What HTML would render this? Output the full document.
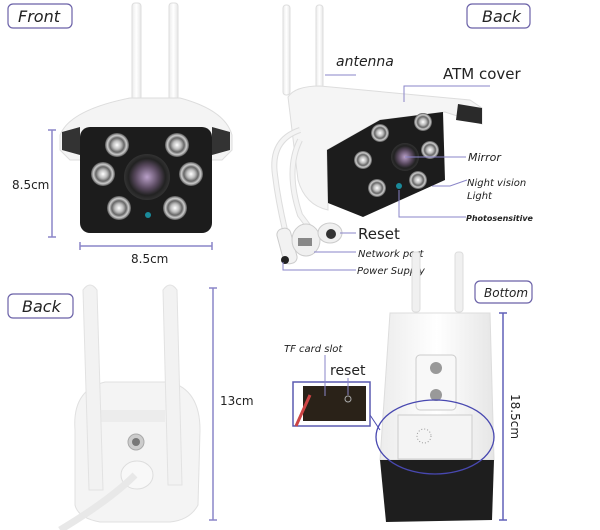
<!DOCTYPE html>
<html><head><meta charset="utf-8"><style>
html,body{margin:0;padding:0;background:#fff;}
svg{display:block;}
text{font-family:"DejaVu Sans","Liberation Sans",sans-serif;fill:#222;}
</style></head><body>
<svg width="600" height="530" viewBox="0 0 600 530" xmlns="http://www.w3.org/2000/svg">
<defs>
<radialGradient id="led" cx="50%" cy="50%" r="50%"><stop offset="0" stop-color="#fff"/><stop offset="0.35" stop-color="#bbb"/><stop offset="0.6" stop-color="#666"/><stop offset="0.8" stop-color="#ccc"/><stop offset="1" stop-color="#555"/></radialGradient>
<radialGradient id="lens" cx="50%" cy="50%" r="50%"><stop offset="0" stop-color="#b9a0c8"/><stop offset="0.5" stop-color="#5a4a60"/><stop offset="0.8" stop-color="#222"/><stop offset="1" stop-color="#333"/></radialGradient>
<linearGradient id="wh" x1="0" y1="0" x2="1" y2="0"><stop offset="0" stop-color="#ececec"/><stop offset="0.5" stop-color="#fff"/><stop offset="1" stop-color="#e6e6e6"/></linearGradient>
</defs>
<!-- FRONT -->
<rect x="8" y="4" width="64" height="24" rx="5" fill="#fff" stroke="#6b62a8" stroke-width="1.2"/>
<text x="18" y="22" font-size="16" font-style="italic">Front</text>
<rect x="132" y="3" width="9" height="98" rx="3" fill="url(#wh)" stroke="#ddd"/>
<rect x="169" y="3" width="9" height="98" rx="3" fill="url(#wh)" stroke="#ddd"/>
<path d="M60 135 Q70 110 130 98 L180 98 Q225 110 232 135 L232 150 L222 160 L70 160 L60 150Z" fill="#f4f4f4" stroke="#ddd"/>
<path d="M62 132 L80 127 L80 155 L62 150Z" fill="#333"/>
<path d="M230 132 L212 127 L212 155 L230 150Z" fill="#333"/>
<rect x="80" y="127" width="132" height="106" rx="10" fill="#1c1c1c"/>
<circle cx="117" cy="145" r="12" fill="url(#led)"/><circle cx="177" cy="145" r="12" fill="url(#led)"/>
<circle cx="103" cy="174" r="12" fill="url(#led)"/><circle cx="191" cy="174" r="12" fill="url(#led)"/>
<circle cx="119" cy="208" r="12" fill="url(#led)"/><circle cx="175" cy="208" r="12" fill="url(#led)"/>
<circle cx="147" cy="177" r="23" fill="url(#lens)"/>
<circle cx="148" cy="215" r="3" fill="#1a8a9a"/>
<g stroke="#8a85c8" stroke-width="1.5"><line x1="52" y1="130" x2="52" y2="237"/><line x1="48" y1="130" x2="56" y2="130"/><line x1="48" y1="237" x2="56" y2="237"/>
<line x1="80" y1="246" x2="212" y2="246"/><line x1="80" y1="242" x2="80" y2="250"/><line x1="212" y1="242" x2="212" y2="250"/></g>
<text x="12" y="189" font-size="12">8.5cm</text>
<text x="131" y="263" font-size="12">8.5cm</text>
<!-- BACK TOP RIGHT -->
<rect x="467" y="4" width="63" height="24" rx="5" fill="#fff" stroke="#6b62a8" stroke-width="1.2"/>
<text x="482" y="22" font-size="16" font-style="italic">Back</text>
<rect x="283" y="5" width="7" height="90" rx="3" fill="url(#wh)" stroke="#ddd"/>
<rect x="316" y="5" width="7" height="90" rx="3" fill="url(#wh)" stroke="#ddd"/>
<path d="M288 97 Q295 86 320 86 L470 100 L482 108 L482 124 L445 112 L380 120 L327 150 L328 210 Q305 205 298 180 Z" fill="#f5f5f5" stroke="#ddd"/>
<path d="M458 104 L482 108 L482 124 L456 120Z" fill="#2a2a2a"/>
<path d="M327 150 L380 120 L443 112 L445 180 L363 217 L328 203 Z" fill="#1c1c1c"/>
<circle cx="380" cy="133" r="9" fill="url(#led)"/><circle cx="423" cy="122" r="9" fill="url(#led)"/>
<circle cx="430" cy="150" r="9" fill="url(#led)"/><circle cx="363" cy="160" r="9" fill="url(#led)"/>
<circle cx="377" cy="188" r="9" fill="url(#led)"/><circle cx="418" cy="180" r="9" fill="url(#led)"/>
<circle cx="405" cy="157" r="14" fill="url(#lens)"/>
<circle cx="399" cy="186" r="3" fill="#1a8a9a"/>
<g fill="none" stroke="#ddd" stroke-width="6"><path d="M300 130 Q270 140 275 175 Q278 200 285 230"/><path d="M300 140 Q285 170 300 215 L315 235"/></g>
<g fill="none" stroke="#f4f4f4" stroke-width="4"><path d="M300 130 Q270 140 275 175 Q278 200 285 230"/><path d="M300 140 Q285 170 300 215 L315 235"/></g>
<rect x="280" y="228" width="14" height="36" rx="6" fill="#f2f2f2" stroke="#ccc" transform="rotate(-15 287 246)"/>
<circle cx="285" cy="260" r="4" fill="#222"/>
<ellipse cx="306" cy="240" rx="14" ry="16" fill="#f0f0f0" stroke="#ccc"/>
<rect x="298" y="238" width="14" height="8" fill="#888"/>
<ellipse cx="330" cy="233" rx="12" ry="10" fill="#f0f0f0" stroke="#ccc"/>
<circle cx="331" cy="234" r="5" fill="#333"/>
<g stroke="#8a85c8" stroke-width="1" fill="none"><line x1="325" y1="75" x2="356" y2="75"/><polyline points="404,102 404,86 490,86"/>
<line x1="405" y1="157" x2="466" y2="157"/><polyline points="432,186 450,186 467,180"/><polyline points="399,190 399,217 466,217"/>
<line x1="340" y1="233" x2="356" y2="233"/><line x1="314" y1="252" x2="356" y2="252"/><polyline points="283,262 283,270 356,270"/></g>
<text x="336" y="66" font-size="14" font-style="italic">antenna</text>
<text x="443" y="79" font-size="15">ATM cover</text>
<text x="468" y="161" font-size="11" font-style="italic">Mirror</text>
<text x="467" y="186" font-size="10" font-style="italic">Night vision</text>
<text x="467" y="199" font-size="10" font-style="italic">Light</text>
<text x="466" y="221" font-size="8" font-style="italic" font-weight="bold">Photosensitive</text>
<text x="358" y="239" font-size="15">Reset</text>
<text x="358" y="257" font-size="10" font-style="italic">Network port</text>
<text x="357" y="274" font-size="10" font-style="italic">Power Supply</text>
<!-- BACK BOTTOM LEFT -->
<rect x="8" y="294" width="65" height="24" rx="5" fill="#fff" stroke="#6b62a8" stroke-width="1.2"/>
<text x="22" y="312" font-size="16" font-style="italic">Back</text>
<path d="M75 430 Q72 390 105 382 L170 382 Q200 390 200 430 L198 505 Q190 520 170 522 L100 522 Q78 518 75 505Z" fill="#f4f4f4" stroke="#e0e0e0"/>
<rect x="95" y="410" width="70" height="12" fill="#ececec"/>
<circle cx="136" cy="442" r="8" fill="#ccc" stroke="#aaa"/><circle cx="136" cy="442" r="4" fill="#777"/>
<ellipse cx="137" cy="475" rx="16" ry="14" fill="#f8f8f8" stroke="#ddd"/>
<path d="M135 475 Q110 500 60 530" fill="none" stroke="#e8e8e8" stroke-width="7"/>
<path d="M83 290 Q90 280 97 290 L103 490 L89 490Z" fill="#f2f2f2" stroke="#e2e2e2"/>
<path d="M163 290 Q170 280 177 290 L182 485 L168 485Z" fill="#f2f2f2" stroke="#e2e2e2"/>
<g stroke="#8a85c8" stroke-width="1.5"><line x1="213" y1="288" x2="213" y2="520"/><line x1="209" y1="288" x2="217" y2="288"/><line x1="209" y1="520" x2="217" y2="520"/></g>
<text x="220" y="405" font-size="12">13cm</text>
<!-- BOTTOM RIGHT -->
<rect x="475" y="281" width="57" height="22" rx="5" fill="#fff" stroke="#6b62a8" stroke-width="1.2"/>
<text x="484" y="297" font-size="12" font-style="italic">Bottom</text>
<rect x="412" y="252" width="8" height="60" rx="3" fill="#f0f0f0" stroke="#ddd"/>
<rect x="455" y="252" width="8" height="60" rx="3" fill="#f0f0f0" stroke="#ddd"/>
<path d="M390 313 L490 313 L494 460 L380 460 Z" fill="url(#wh)" stroke="#ddd"/>
<path d="M380 460 L494 460 L492 520 L386 522 Z" fill="#1e1e1e"/>
<rect x="416" y="355" width="40" height="55" rx="4" fill="#f8f8f8" stroke="#ccc"/>
<circle cx="436" cy="368" r="6" fill="#999"/><circle cx="436" cy="395" r="6" fill="#999"/>
<rect x="398" y="415" width="74" height="44" fill="#f4f4f4" stroke="#ccc"/>
<circle cx="424" cy="436" r="7" fill="none" stroke="#999" stroke-dasharray="1 2"/>
<ellipse cx="435" cy="437" rx="59" ry="37" fill="none" stroke="#4848b0" stroke-width="1.3"/>
<line x1="370" y1="415" x2="380" y2="430" stroke="#4848b0"/>
<rect x="293" y="382" width="77" height="44" fill="#fff" stroke="#5a5ab0" stroke-width="1.5"/>
<rect x="303" y="386" width="63" height="35" fill="#2a2218"/>
<path d="M296 426 L310 395" stroke="#c44" stroke-width="3"/>
<circle cx="348" cy="399" r="3" fill="none" stroke="#aaa"/>
<g stroke="#8a85c8" stroke-width="1"><line x1="325" y1="355" x2="325" y2="396"/><line x1="348" y1="378" x2="348" y2="395"/></g>
<text x="284" y="352" font-size="10" font-style="italic">TF card slot</text>
<text x="330" y="375" font-size="14">reset</text>
<g stroke="#6060b8" stroke-width="1.5"><line x1="503" y1="313" x2="503" y2="520"/><line x1="499" y1="313" x2="507" y2="313"/><line x1="499" y1="520" x2="507" y2="520"/></g>
<text x="511" y="394" font-size="12" transform="rotate(90 511 394)">18.5cm</text>
</svg>
</body></html>
